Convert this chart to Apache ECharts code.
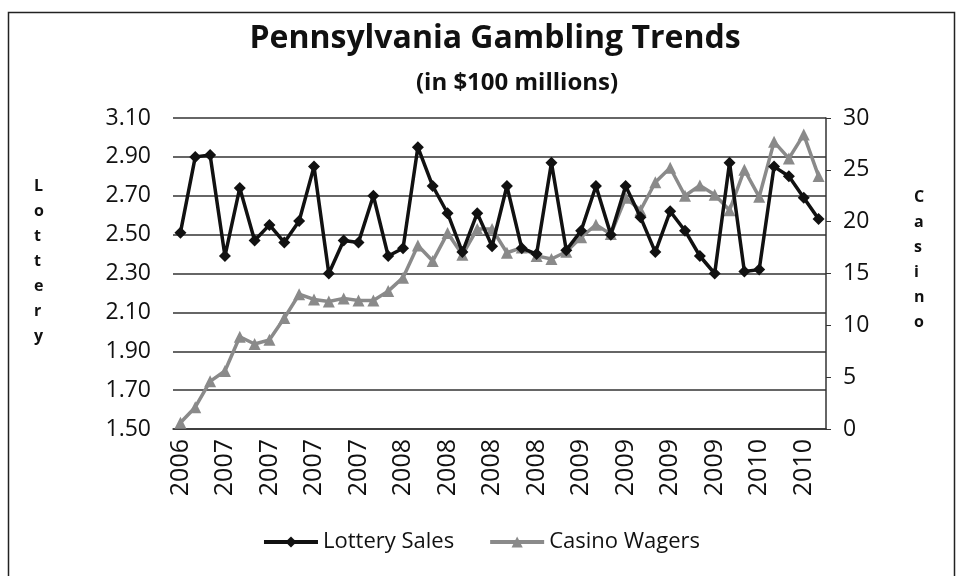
<!DOCTYPE html>
<html>
<head>
<meta charset="utf-8">
<script src="https://cdn.jsdelivr.net/npm/echarts@6/dist/echarts.min.js"></script>
<style>
html,body{margin:0;padding:0;background:#fff;}
#chart{width:962px;height:576px;}
</style>
</head>
<body>
<div id="chart"></div>
<script>
// Monthly categories, Dec 2006 through Jul 2010 (labels show the year)
const categories = [
  '2006',
  '2007','2007','2007','2007','2007','2007','2007','2007','2007','2007','2007','2007',
  '2008','2008','2008','2008','2008','2008','2008','2008','2008','2008','2008','2008',
  '2009','2009','2009','2009','2009','2009','2009','2009','2009','2009','2009','2009',
  '2010','2010','2010','2010','2010','2010','2010'
];
const lotterySales = [
  2.51, 2.90, 2.91, 2.39, 2.74, 2.47, 2.55, 2.46, 2.57, 2.85,
  2.30, 2.47, 2.46, 2.70, 2.39, 2.43, 2.95, 2.75, 2.61, 2.41,
  2.61, 2.44, 2.75, 2.43, 2.40, 2.87, 2.42, 2.52, 2.75, 2.50,
  2.75, 2.59, 2.41, 2.62, 2.52, 2.39, 2.30, 2.87, 2.31, 2.32,
  2.85, 2.80, 2.69, 2.58
];
const casinoWagers = [
  0.6, 2.1, 4.6, 5.6, 8.9, 8.2, 8.6, 10.7, 13.0, 12.5,
  12.3, 12.6, 12.4, 12.4, 13.3, 14.6, 17.7, 16.2, 18.9, 16.8,
  19.3, 19.3, 17.0, 17.5, 16.7, 16.4, 17.1, 18.5, 19.7, 18.8,
  22.3, 21.1, 23.8, 25.2, 22.5, 23.5, 22.6, 21.1, 25.0, 22.4,
  27.7, 26.1, 28.4, 24.4
];
const lotteryTicks = { min: 1.5, max: 3.1, step: 0.2 };
const casinoTicks = { min: 0, max: 30, step: 5 };

const FONT = "'Open Sans', 'Noto Sans', sans-serif";
const chart = echarts.init(document.getElementById('chart'));
chart.setOption({
  animation: false,
  backgroundColor: '#fff',
  title: [
    { text: 'Pennsylvania Gambling Trends', left: 490, textAlign: 'center', top: 18,
      textStyle: { fontFamily: FONT, fontWeight: 'bold', fontSize: 32, color: '#111' } },
    { text: '(in $100 millions)', left: 512, textAlign: 'center', top: 66,
      textStyle: { fontFamily: FONT, fontWeight: 'bold', fontSize: 24, color: '#111' } }
  ],
  graphic: [
    { type: 'rect', shape: { x: 8.5, y: 12.5, width: 946, height: 600 },
      style: { fill: 'none', stroke: '#222', lineWidth: 1.5 }, silent: true },
    { type: 'text', left: 34, top: 174,
      style: { text: 'L\no\nt\nt\ne\nr\ny', fontFamily: FONT, fontWeight: 'bold', fontSize: 16,
               lineHeight: 25, fill: '#111', align: 'center' } },
    { type: 'text', left: 914, top: 185,
      style: { text: 'C\na\ns\ni\nn\no', fontFamily: FONT, fontWeight: 'bold', fontSize: 16,
               lineHeight: 25, fill: '#111', align: 'center' } }
  ],
  legend: {
    bottom: 18, left: 'center', itemWidth: 54, itemHeight: 14, itemGap: 34,
    lineStyle: { width: 4 },
    textStyle: { fontFamily: FONT, fontSize: 22, color: '#111' },
    data: ['Lottery Sales', 'Casino Wagers']
  },
  grid: { left: 173, right: 136, top: 118, bottom: 147 },
  xAxis: {
    type: 'category', data: categories, boundaryGap: true,
    axisLine: { show: true, lineStyle: { color: '#333', width: 1.5 } },
    axisTick: { show: false },
    axisLabel: { interval: 2, rotate: 90, margin: 10, fontFamily: FONT, fontSize: 25, color: '#111' }
  },
  yAxis: [
    { type: 'value', min: lotteryTicks.min, max: lotteryTicks.max, interval: lotteryTicks.step,
      position: 'left',
      axisLine: { show: false }, axisTick: { show: false },
      splitLine: { show: true, lineStyle: { color: '#333', width: 1.5 } },
      axisLabel: { margin: 22, fontFamily: FONT, fontSize: 23, color: '#111',
                   formatter: v => v.toFixed(2) } },
    { type: 'value', min: casinoTicks.min, max: casinoTicks.max, interval: casinoTicks.step,
      position: 'right',
      axisLine: { show: true, lineStyle: { color: '#333', width: 1.5 } },
      axisTick: { show: true, length: 5, lineStyle: { color: '#333' } },
      splitLine: { show: false },
      axisLabel: { margin: 17, fontFamily: FONT, fontSize: 23, color: '#111' } }
  ],
  series: [
    { name: 'Lottery Sales', type: 'line', yAxisIndex: 0, data: lotterySales,
      symbol: 'diamond', symbolSize: 12, showAllSymbol: true,
      lineStyle: { color: '#111', width: 3.5 },
      itemStyle: { color: '#111' }, z: 3 },
    { name: 'Casino Wagers', type: 'line', yAxisIndex: 1, data: casinoWagers,
      symbol: 'triangle', symbolSize: 12, showAllSymbol: true,
      lineStyle: { color: '#8a8a8a', width: 3.5 },
      itemStyle: { color: '#8a8a8a' }, z: 2 }
  ]
});
</script>
</body>
</html>
